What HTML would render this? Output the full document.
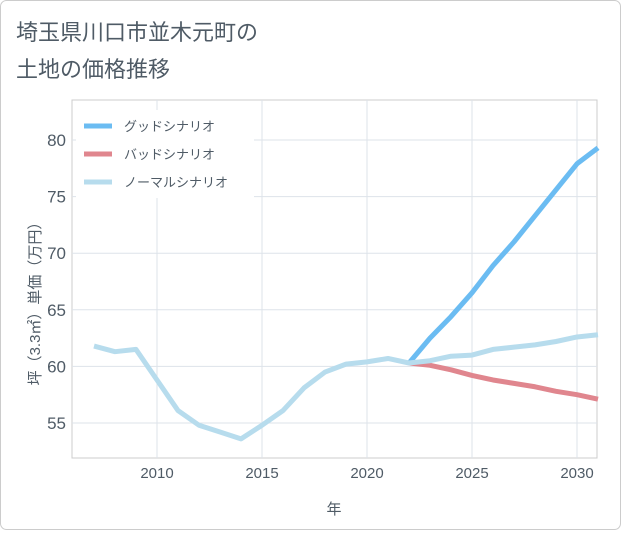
<!DOCTYPE html>
<html><head><meta charset="utf-8"><style>
body{margin:0;background:#fff;}
#wrap{position:relative;width:621px;height:530px;font-family:"Liberation Sans","Noto Sans CJK JP",sans-serif;}
</style></head><body>
<div id="wrap">
<svg id="svg" width="621" height="530" xmlns="http://www.w3.org/2000/svg">
<rect x="0.5" y="0.5" width="620" height="529" rx="6" fill="#fff" stroke="#ccc"/>
<text x="16" y="40" font-size="22" fill="#4f5b66">埼玉県川口市並木元町の</text>
<text x="16" y="77" font-size="22" fill="#4f5b66">土地の価格推移</text>
<g id="grid"></g>
<g id="series"></g>
<text transform="translate(40,300) rotate(-90)" text-anchor="middle" font-size="15" fill="#4f5b66">坪（3.3㎡）単価（万円）</text>
<text x="334" y="514" text-anchor="middle" font-size="15" fill="#4f5b66">年</text>
<g id="legend"></g>
</svg>
</div>
<script>
const years=[2007,2008,2009,2010,2011,2012,2013,2014,2015,2016,2017,2018,2019,2020,2021,2022,2023,2024,2025,2026,2027,2028,2029,2030,2031];
const normal=[61.8,61.3,61.5,58.8,56.1,54.8,54.2,53.6,54.8,56.1,58.1,59.5,60.2,60.4,60.7,60.3,60.5,60.9,61.0,61.5,61.7,61.9,62.2,62.6,62.8];
const futureYears=[2022,2023,2024,2025,2026,2027,2028,2029,2030,2031];
const good=[60.3,62.5,64.4,66.5,68.9,71.0,73.3,75.6,77.9,79.3];
const bad=[60.3,60.1,59.7,59.2,58.8,58.5,58.2,57.8,57.5,57.1];
const xTicks=[2010,2015,2020,2025,2030];
const yTicks=[55,60,65,70,75,80];
const seriesNames=["グッドシナリオ","バッドシナリオ","ノーマルシナリオ"];
const X0=72,X1=597,Y0=100,Y1=458;
const xs=y=>157+(y-2010)*21;
const ys=v=>423-(v-55)*11.32;
const NS="http://www.w3.org/2000/svg";
function mk(t,a,p){const e=document.createElementNS(NS,t);for(const k in a)e.setAttribute(k,a[k]);p.appendChild(e);return e;}
const grid=document.getElementById('grid');
const pa=mk('rect',{x:X0,y:Y0,width:X1-X0,height:Y1-Y0,fill:'none',stroke:'#ccc'},grid);


xTicks.forEach(t=>{
 const l=mk('line',{x1:xs(t),x2:xs(t),y1:Y0,y2:Y1,stroke:'#dde3ea'},grid);
 
 
 const tx=mk('text',{x:xs(t),y:478,'text-anchor':'middle','font-size':15,fill:'#4f5b66'},grid);tx.textContent=t;
 
 
});
yTicks.forEach(t=>{
 const l=mk('line',{x1:X0,x2:X1,y1:ys(t),y2:ys(t),stroke:'#dde3ea'},grid);
 
 
 const tx=mk('text',{x:66,y:ys(t)+6,'text-anchor':'end','font-size':17,fill:'#4f5b66'},grid);tx.textContent=t;
 
 
});
const sg=document.getElementById('series');
function line(xv,yv,c,n){const p=mk('polyline',{points:xv.map((x,i)=>xs(x)+','+ys(yv[i])).join(' '),fill:'none',stroke:c,'stroke-width':5,'stroke-linejoin':'round'},sg);
 
 }
line(futureYears,bad,'#e0868e','bad-scenario-line');
line(futureYears,good,'#6bbcf2','good-scenario-line');
line(years,normal,'#b7dced','normal-scenario-line');
const lg=document.getElementById('legend');
const cols=['#6bbcf2','#e0868e','#b7dced'];
mk('rect',{x:76,y:110,width:178,height:88,fill:'#fff'},lg);
seriesNames.forEach((n,i)=>{
 const y=126+i*28;
 const l=mk('line',{x1:84,x2:112,y1:y,y2:y,stroke:cols[i],'stroke-width':5},lg);
 
 
 const t=mk('text',{x:124,y:y+5,'font-size':13,fill:'#4f5b66'},lg);t.textContent=n;
 
 
});
</script>
</body></html>
